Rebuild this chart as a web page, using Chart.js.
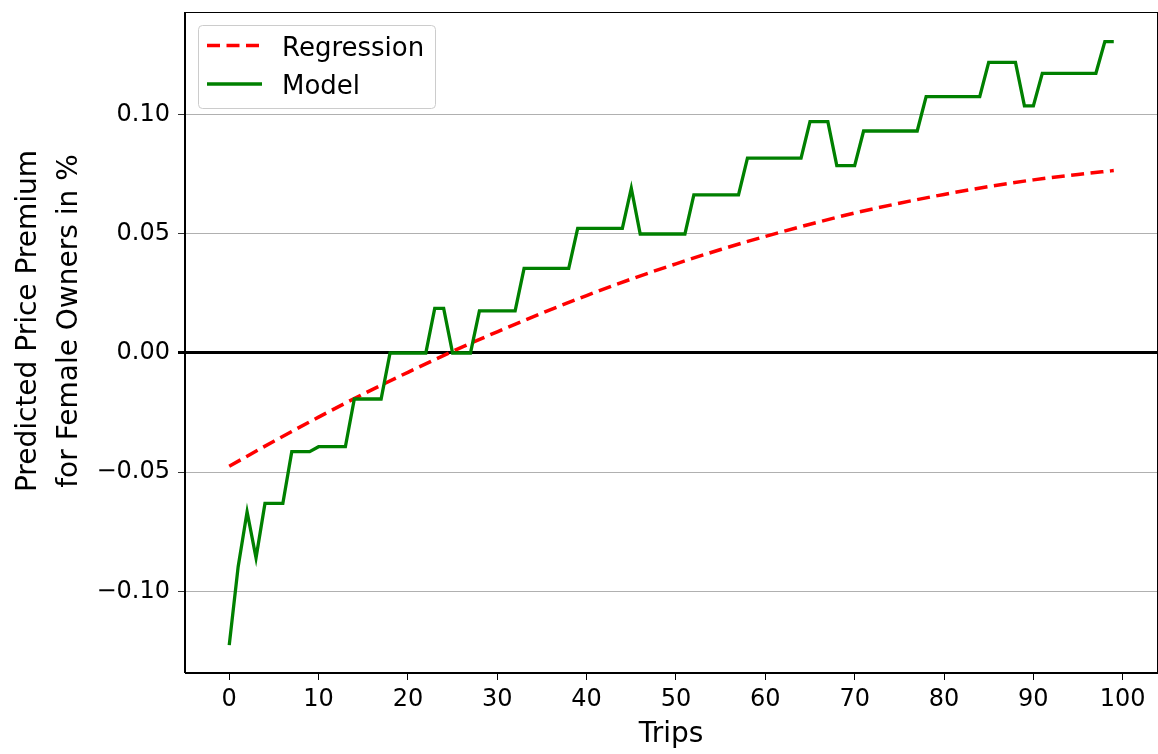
<!DOCTYPE html>
<html>
<head>
<meta charset="utf-8">
<script src="https://cdn.jsdelivr.net/npm/chart.js@4.4.1/dist/chart.umd.min.js"></script>
<style>
  html, body { margin: 0; padding: 0; background: #fff; }
  canvas { display: block; }
</style>
</head>
<body>
<canvas id="chart" width="1158" height="754"></canvas>
<script>
// trips (x) for the model curve
const trips = [
  0, 1, 2, 3, 4, 5, 6, 7, 8, 9, 10, 11, 12, 13, 14, 15, 16, 17, 18, 19,
  20, 21, 22, 23, 24, 25, 26, 27, 28, 29, 30, 31, 32, 33, 34, 35, 36, 37, 38, 39,
  40, 41, 42, 43, 44, 45, 46, 47, 48, 49, 50, 51, 52, 53, 54, 55, 56, 57, 58, 59,
  60, 61, 62, 63, 64, 65, 66, 67, 68, 69, 70, 71, 72, 73, 74, 75, 76, 77, 78, 79,
  80, 81, 82, 83, 84, 85, 86, 87, 88, 89, 90, 91, 92, 93, 94, 95, 96, 97, 98, 99,
];
const modelValues = [
  -0.1225, -0.0896, -0.0666, -0.0859, -0.0631, -0.0631, -0.0631, -0.0414, -0.0414, -0.0414,
  -0.0393, -0.0393, -0.0393, -0.0393, -0.0193, -0.0193, -0.0193, -0.0193, 0, 0,
  0, 0, 0, 0.0187, 0.0187, 0, 0, 0, 0.0177, 0.0177,
  0.0177, 0.0177, 0.0177, 0.0355, 0.0355, 0.0355, 0.0355, 0.0355, 0.0355, 0.0523,
  0.0523, 0.0523, 0.0523, 0.0523, 0.0523, 0.0691, 0.0499, 0.0499, 0.0499, 0.0499,
  0.0499, 0.0499, 0.0663, 0.0663, 0.0663, 0.0663, 0.0663, 0.0663, 0.0817, 0.0817,
  0.0817, 0.0817, 0.0817, 0.0817, 0.0817, 0.097, 0.097, 0.097, 0.0786, 0.0786,
  0.0786, 0.0931, 0.0931, 0.0931, 0.0931, 0.0931, 0.0931, 0.0931, 0.1075, 0.1075,
  0.1075, 0.1075, 0.1075, 0.1075, 0.1075, 0.1219, 0.1219, 0.1219, 0.1219, 0.1036,
  0.1036, 0.1173, 0.1173, 0.1173, 0.1173, 0.1173, 0.1173, 0.1173, 0.1306, 0.1306,
];

// regression curve, read at a few trips
const regTrips = [0, 5, 10, 15, 20, 25, 30, 35, 40, 45, 50, 55, 60, 65, 70, 75, 80, 85, 90, 95, 99];
const regValues = [
  -0.0475, -0.037, -0.0269, -0.0172, -0.0081, 0.0007, 0.0089, 0.0167, 0.0241, 0.031, 0.0374,
  0.0434, 0.0489, 0.054, 0.0587, 0.0628, 0.0665, 0.0698, 0.0726, 0.0749, 0.0765,
];

const xTicks = [0, 10, 20, 30, 40, 50, 60, 70, 80, 90, 100];
const yTicks = [-0.1, -0.05, 0, 0.05, 0.1];

const FONT = "'DejaVu Sans', sans-serif";

const frame = {
  id: "frame",
  afterDatasetsDraw(chart) {
    const { ctx, chartArea: a } = chart;
    ctx.save();
    ctx.strokeStyle = "#000";
    ctx.lineWidth = 1;
    ctx.strokeRect(a.left - 0.5, a.top + 0.5, a.right - a.left, a.bottom - a.top - 1);
    ctx.restore();
  },
};

const legendBox = {
  id: "legendBox",
  afterDraw(chart) {
    const ctx = chart.ctx;
    ctx.save();
    ctx.fillStyle = "rgba(255,255,255,0.8)";
    ctx.strokeStyle = "#cccccc";
    ctx.lineWidth = 1;
    ctx.beginPath();
    ctx.roundRect(198.5, 25.5, 237, 83, 4);
    ctx.fill();
    ctx.stroke();
    ctx.font = "26px " + FONT;
    ctx.textBaseline = "alphabetic";
    ctx.textAlign = "left";
    chart.data.datasets.forEach((ds, i) => {
      const y = 45.5 + i * 38.5;
      ctx.strokeStyle = ds.borderColor;
      ctx.lineWidth = ds.borderWidth;
      ctx.setLineDash(ds.borderDash || []);
      ctx.beginPath();
      ctx.moveTo(207, y);
      ctx.lineTo(262, y);
      ctx.stroke();
      ctx.fillStyle = "#000";
      ctx.fillText(ds.label, 282, y + 10);
    });
    ctx.restore();
  },
};

const axisTitles = {
  id: "axisTitles",
  afterDraw(chart) {
    const ctx = chart.ctx;
    ctx.save();
    ctx.fillStyle = "#000";
    ctx.font = "28px " + FONT;
    ctx.textAlign = "center";
    ctx.textBaseline = "alphabetic";
    ctx.fillText("Trips", 671, 742);
    ctx.translate(0, 321);
    ctx.rotate(-Math.PI / 2);
    ctx.fillText("Predicted Price Premium", 0, 36);
    ctx.fillText("for Female Owners in %", 0, 77);
    ctx.restore();
  },
};

Chart.defaults.font.family = FONT;
Chart.defaults.color = "#000";

new Chart(document.getElementById("chart"), {
  type: "line",
  data: {
    datasets: [
      {
        label: "Regression",
        data: regTrips.map((t, i) => ({ x: t, y: regValues[i] })),
        borderColor: "#ff0000",
        borderWidth: 3.5,
        borderDash: [13, 6.5],
        pointRadius: 0,
        cubicInterpolationMode: "monotone",
        fill: false,
        order: 1,
      },
      {
        label: "Model",
        data: trips.map((t, i) => ({ x: t, y: modelValues[i] })),
        borderColor: "#008000",
        borderWidth: 3.3,
        pointRadius: 0,
        tension: 0,
        fill: false,
        order: 0,
      },
    ],
  },
  options: {
    responsive: false,
    animation: false,
    devicePixelRatio: 1,
    layout: { padding: { top: 12, right: 0, left: 0, bottom: 0 } },
    plugins: {
      legend: { display: false },
      tooltip: { enabled: false },
    },
    scales: {
      x: {
        type: "linear",
        min: -4.95,
        max: 103.95,
        afterBuildTicks: (scale) => {
          scale.ticks = xTicks.map((v) => ({ value: v }));
        },
        afterFit: (scale) => {
          scale.height = 81;
          scale.paddingLeft = 0;
          scale.paddingRight = 0;
        },
        grid: {
          drawOnChartArea: false,
          drawTicks: true,
          tickLength: 7,
          color: "#000",
        },
        border: { display: true, color: "#000", width: 1 },
        ticks: {
          font: { size: 24 },
          padding: 5,
          maxRotation: 0,
          autoSkip: false,
        },
      },
      y: {
        type: "linear",
        min: -0.1342,
        max: 0.143,
        afterBuildTicks: (scale) => {
          scale.ticks = yTicks.map((v) => ({ value: v }));
        },
        afterFit: (scale) => {
          scale.width = 185;
          scale.paddingTop = 0;
          scale.paddingBottom = 0;
        },
        grid: {
          drawOnChartArea: true,
          drawTicks: true,
          tickLength: 7,
          color: (c) => (c.tick && c.tick.value === 0 ? "#000" : "#b0b0b0"),
          lineWidth: (c) => (c.tick && c.tick.value === 0 ? 3 : 1),
          tickColor: (c) => (c.tick && c.tick.value === 0 ? "#000" : "#333"),
        },
        border: { display: true, color: "#000", width: 1 },
        ticks: {
          font: { size: 24 },
          padding: 8,
          autoSkip: false,
          callback: (v) => v.toFixed(2).replace("-", "\u2212"),
        },
      },
    },
  },
  plugins: [frame, legendBox, axisTitles],
});
</script>
</body>
</html>
